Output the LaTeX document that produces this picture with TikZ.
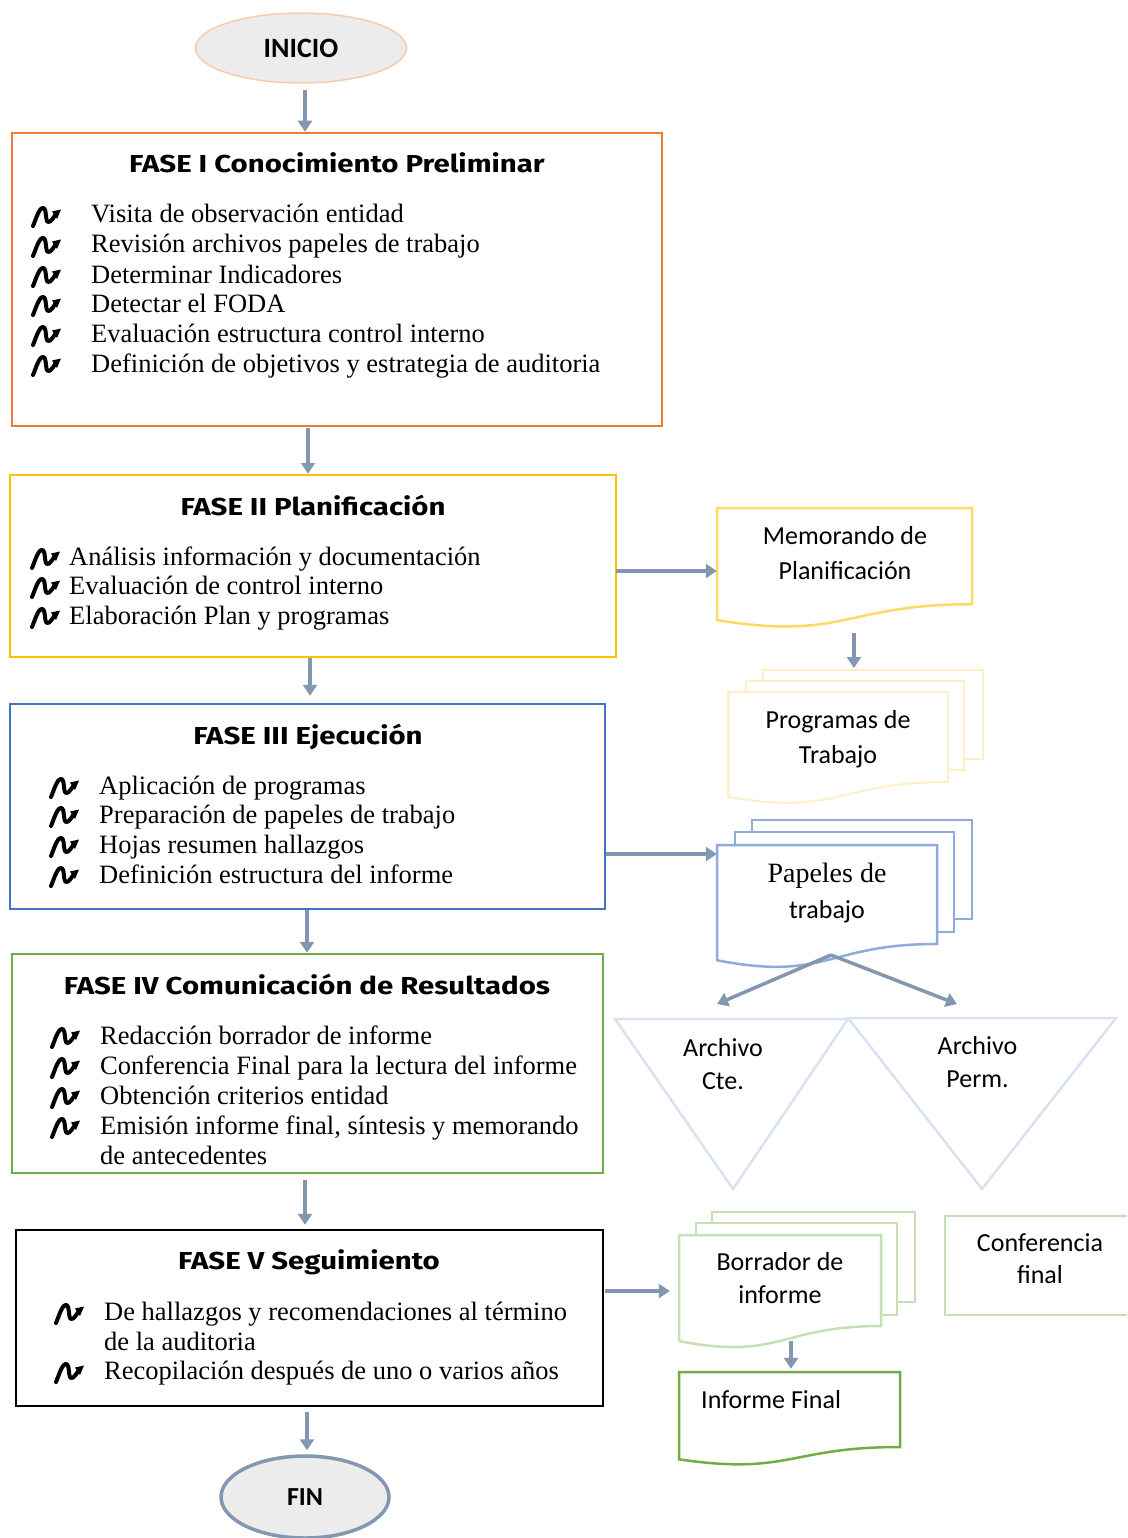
\documentclass[tikz,border=0pt]{standalone}
\usepackage{fontspec}
\setmainfont{Liberation Serif}
\newfontfamily\titlef{Fira Sans}[FakeStretch=1.2]
\newfontfamily\calib{Carlito}
\usetikzlibrary{arrows.meta,shapes.geometric}
\definecolor{arrowc}{HTML}{8497B0}
\definecolor{orangeC}{HTML}{ED7D31}
\definecolor{goldC}{HTML}{FFC000}
\definecolor{blueC}{HTML}{4472C4}
\definecolor{greenC}{HTML}{70AD47}
\definecolor{memoC}{HTML}{FFD966}
\definecolor{progC}{HTML}{FFEFC2}
\definecolor{papC}{HTML}{8FAADC}
\definecolor{triC}{HTML}{D9E2F3}
\definecolor{borC}{HTML}{C5E0B4}
\definecolor{inicioFill}{HTML}{ECECEC}
\definecolor{inicioLine}{HTML}{F8CBAD}
\newcommand\docout[5]{\draw[#1] (#2,#3) -- (#4,#3) -- (#4,{#3+0.802*#5}) .. controls ({(#2+#4)/2},{#3+0.802*#5}) and ({(#2+#4)/2},{#3+1.1075*#5}) .. (#2,{#3+0.934*#5}) -- cycle;}
\begin{document}
\begin{tikzpicture}[x=1pt,y=-1pt,
 arr/.style={draw=arrowc, line width=3.5pt, -{Triangle[length=11pt,width=14pt]}},
 phasebox/.style={rectangle, line width=2.5pt, inner sep=0pt},
 ttl/.style={font=\titlef\bfseries\fontsize{24.5}{28}\selectfont, anchor=base, inner sep=0pt},
 itm/.style={font=\fontsize{26.5}{29.6}\selectfont, anchor=base west, inner sep=0pt},
 itmtwo/.style={font=\fontsize{26.5}{29.6}\selectfont, anchor=north west, inner sep=0pt, align=left},
 lbl/.style={font=\calib\fontsize{26}{34}\selectfont, align=center, inner sep=0pt},
 body/.style={rectangle, inner sep=0pt, draw=none},
 page/.style={rectangle, inner sep=0pt, fill=white, line width=#1},
 page/.default=2.5pt,
 term/.style={ellipse, inner sep=0pt, font=\calib\bfseries},
 bul/.pic={
  \draw[line width=4pt, line cap=round, line join=round] (-13,9) .. controls (-10,2) and (-7,-9) .. (-3,-9) .. controls (1,-9) and (-1,4) .. (2,5) .. controls (5,6) and (8,-1) .. (11,-4);
  \fill (15,-7.5) -- (6,-5.5) -- (11,2) -- cycle;
 }
]
\useasboundingbox (0,0) rectangle (1127,1538);

% terminals
\node[term, fill=inicioFill, draw=inicioLine, line width=1.5pt, minimum width=211, minimum height=70, font=\calib\bfseries\fontsize{28}{30}\selectfont] (inicio) at (301,48) {INICIO};
\node[term, fill=inicioFill, draw=arrowc, line width=3.5pt, minimum width=168, minimum height=82, font=\calib\bfseries\fontsize{26}{30}\selectfont] (fin) at (305,1497) {FIN};

% phase boxes
\node[phasebox, draw=orangeC, minimum width=650, minimum height=293] (f1) at (337,279.5) {};
\node[phasebox, draw=goldC, minimum width=606, minimum height=182] (f2) at (313,566) {};
\node[phasebox, draw=blueC, minimum width=595, minimum height=205] (f3) at (307.5,806.5) {};
\node[phasebox, draw=greenC, minimum width=591, minimum height=219] (f4) at (307.5,1063.5) {};
\node[phasebox, draw=black, minimum width=587, minimum height=176] (f5) at (309.5,1318) {};

% titles
\node[ttl] (t1) at (337,173) {FASE I Conocimiento Preliminar};
\node[ttl] (t2) at (313,515) {FASE II Planificación};
\node[ttl] (t3) at (308,744) {FASE III Ejecución};
\node[ttl] (t4) at (307,994) {FASE IV Comunicación de Resultados};
\node[ttl] (t5) at (309,1269) {FASE V Seguimiento};

% FASE I items
\node[itm] (f1a) at (91,223) {Visita de observación entidad};
\node[itm] (f1b) at (91,253) {Revisión archivos papeles de trabajo};
\node[itm] (f1c) at (91,283) {Determinar Indicadores};
\node[itm] (f1d) at (91,312) {Detectar el FODA};
\node[itm] (f1e) at (91,342) {Evaluación estructura control interno};
\node[itm] (f1f) at (91,372) {Definición de objetivos y estrategia de auditoria};
\foreach \yy in {215,245,275,304,334,364} \pic at (46,\yy+2) {bul};

% FASE II items
\node[itm] (f2a) at (69,565) {Análisis información y documentación};
\node[itm] (f2b) at (69,594) {Evaluación de control interno};
\node[itm] (f2c) at (69,624) {Elaboración Plan y programas};
\foreach \yy in {557,586,616} \pic at (45,\yy+2) {bul};

% FASE III items
\node[itm] (f3a) at (99,794) {Aplicación de programas};
\node[itm] (f3b) at (99,823) {Preparación de papeles de trabajo};
\node[itm] (f3c) at (99,853) {Hojas resumen hallazgos};
\node[itm] (f3d) at (99,883) {Definición estructura del informe};
\foreach \yy in {786,815,845,875} \pic at (64,\yy+2) {bul};

% FASE IV items
\node[itm] (f4a) at (100,1044) {Redacción borrador de informe};
\node[itm] (f4b) at (100,1074) {Conferencia Final para la lectura del informe};
\node[itm] (f4c) at (100,1104) {Obtención criterios entidad};
\node[itmtwo] (f4d) at (100,1116) {Emisión informe final, síntesis y memorando\\de antecedentes};
\foreach \yy in {1036,1066,1096,1126} \pic at (65,\yy+2) {bul};

% FASE V items
\node[itmtwo] (f5a) at (104,1302) {De hallazgos y recomendaciones al término\\de la auditoria};
\node[itm] (f5b) at (104,1379) {Recopilación después de uno o varios años};
\foreach \yy in {1312,1371} \pic at (69,\yy+2) {bul};

% Memorando
\docout{draw=memoC, line width=2.5pt, fill=white}{717}{508}{972}{120}
\node[body, minimum width=255, minimum height=96] (memo) at (844.5,556) {};
\node[lbl, font=\calib\fontsize{26}{35}\selectfont] (memotxt) at (845,553) {Memorando de\\Planificación};

% Programas de trabajo
\node[page=2pt, draw=progC, minimum width=220, minimum height=89] (progback) at (873,714.5) {};
\node[page=2pt, draw=progC, minimum width=218, minimum height=89] (progmid) at (855,725.5) {};
\docout{draw=progC, line width=2pt, fill=white}{728}{692}{948}{112.2}
\node[body, minimum width=220, minimum height=90] (prog) at (838,737) {};
\node[lbl, font=\calib\fontsize{26}{35}\selectfont] (progtxt) at (838,739) {Programas de\\Trabajo};

% Papeles de trabajo
\node[page, draw=papC, minimum width=220, minimum height=99] (papback) at (862,869.5) {};
\node[page, draw=papC, minimum width=219, minimum height=100] (papmid) at (844.5,882) {};
\docout{draw=papC, line width=2.5pt, fill=white}{717}{845}{937}{123.4}
\node[body, minimum width=220, minimum height=99] (pap) at (827,894.5) {};
\node[lbl, font=\calib\fontsize{26}{36}\selectfont] (paptxt) at (827,893) {{\rmfamily\fontsize{28}{36}\selectfont Papeles de}\\trabajo};

% Archivo triangles
\draw[draw=triC, line width=2.5pt, line join=miter] (615,1019) -- (848,1019) -- (733,1189) -- cycle;
\draw[draw=triC, line width=2.5pt, line join=miter] (848,1018) -- (1116,1018) -- (982,1189) -- cycle;
\node[lbl, font=\calib\fontsize{26}{33}\selectfont] (cte) at (723,1064) {Archivo\\Cte.};
\node[lbl, font=\calib\fontsize{26}{33}\selectfont] (perm) at (977.5,1062) {Archivo\\Perm.};
\coordinate (papout) at (831,955);
\coordinate (ctein) at (717,1004);
\coordinate (permin) at (957,1004);

% Borrador de informe
\node[page, draw=borC, minimum width=203, minimum height=90] (borback) at (813.5,1257) {};
\node[page, draw=borC, minimum width=201, minimum height=92] (bormid) at (796.5,1269) {};
\docout{draw=borC, line width=2.5pt, fill=white}{679}{1235}{881}{113.5}
\node[body, minimum width=202, minimum height=91] (bor) at (780,1280.5) {};
\node[lbl, font=\calib\fontsize{26}{33}\selectfont] (bortxt) at (780,1278) {Borrador de\\informe};

% Informe final
\docout{draw=greenC, line width=2.5pt, fill=white}{679}{1372}{900}{93.5}
\node[body, minimum width=221, minimum height=75] (inf) at (789.5,1409.5) {};
\node[font=\calib\fontsize{26}{30}\selectfont, anchor=base west, inner sep=0pt] (inftxt) at (701,1408) {Informe Final};

% Conferencia final
\draw[draw=borC, line width=2.5pt] (1127,1216) -- (945,1216) -- (945,1315) -- (1127,1315);
\node[lbl, font=\calib\fontsize{26}{32}\selectfont] (conf) at (1040,1259) {Conferencia\\final};

% connectors
\coordinate (s0) at (305,90);
\coordinate (s1) at (308,428);
\coordinate (s2) at (310,658);
\coordinate (s3) at (307,910);
\coordinate (s4) at (305,1180);
\coordinate (s5) at (307,1412);
\draw[arr] (s0) -- (s0 |- f1.north);
\draw[arr] (s1) -- (s1 |- f2.north);
\draw[arr, shorten >=7pt] (s2) -- (s2 |- f3.north);
\draw[arr] (s3) -- (s3 |- f4.north);
\draw[arr, shorten >=4pt] (s4) -- (s4 |- f5.north);
\draw[arr, shorten >=4pt] (s5) -- (s5 |- fin.north);

\coordinate (h1) at (616,571);
\coordinate (h2) at (606,854);
\coordinate (h3) at (605,1291);
\draw[arr] (h1) -- (h1 -| memo.west);
\draw[arr] (h2) -- (h2 -| pap.west);
\draw[arr, shorten >=9pt] (h3) -- (h3 -| bor.west);

\coordinate (v1) at (854,633);
\coordinate (v2) at (791,1341);
\draw[arr, shorten >=1pt] (v1) -- (v1 |- progback.north);
\draw[arr, shorten >=3pt] (v2) -- (v2 |- inf.north);

\draw[arr] (papout) -- (ctein);
\draw[arr] (papout) -- (permin);
\end{tikzpicture}
\end{document}
